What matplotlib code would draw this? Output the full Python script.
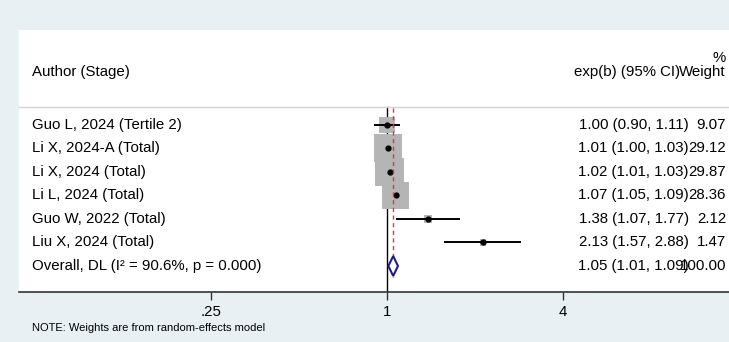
import matplotlib.pyplot as plt
import matplotlib.transforms as mtransforms
import numpy as np

plt.rcParams['font.family'] = ['Liberation Sans', 'DejaVu Sans']

# study data
labels = ['Guo L, 2024 (Tertile 2)', 'Li X, 2024-A (Total)', 'Li X, 2024 (Total)',
          'Li L, 2024 (Total)', 'Guo W, 2022 (Total)', 'Liu X, 2024 (Total)']
es = [1.00, 1.01, 1.02, 1.07, 1.38, 2.13]
lo = [0.90, 1.00, 1.01, 1.05, 1.07, 1.57]
hi = [1.11, 1.03, 1.03, 1.09, 1.77, 2.88]
weights = [9.07, 29.12, 29.87, 28.36, 2.12, 1.47]

overall_label = 'Overall, DL (I\u00b2 = 90.6%, p = 0.000)'
overall_es, overall_lo, overall_hi = 1.05, 1.01, 1.09
overall_w = 100.00

xticks = [0.25, 1, 4]
xticklabels = ['.25', '1', '4']

bg = '#e9f0f3'
fig = plt.figure(figsize=(7.29, 3.42), dpi=100, facecolor=bg)
ax = fig.add_axes([19/729, 1-292/342, 1-19/729, (292-30)/342])
ax.set_facecolor('white')

ax.set_xscale('log', base=2)
ax.set_xlim(2**-4.182, 2**3.886)
ax.set_ylim(7.106, -4.04)

rows = np.arange(len(labels))
fs = 10.8

# CI lines, boxes, dots
for i in rows:
    ax.plot([lo[i], hi[i]], [i, i], color='black', lw=1.4, zorder=3, solid_capstyle='butt')
ax.scatter(es, rows, s=np.array(weights)*14, marker='s', color='#b5b5b5', lw=0, zorder=2)
ax.plot(es, rows, 'o', color='black', ms=3.5, zorder=4)

# overall diamond
yo = len(labels)
ax.fill([overall_lo, overall_es, overall_hi, overall_es, overall_lo],
        [yo, yo-0.42, yo, yo+0.42, yo], facecolor='white', edgecolor='#1c1c86', lw=1.5, zorder=5)

# reference lines
ax.plot([1, 1], [-0.766, 7.106], color='black', lw=1.0, zorder=1)
ax.plot([overall_es, overall_es], [-0.72, 6.47], color='#b84a4a', lw=1.0, ls=(0, (3, 2.5)), zorder=4)
ax.axhline(-0.766, color='#d2d2d2', lw=1.0)

# axis
for s in ['top', 'left', 'right']:
    ax.spines[s].set_visible(False)
ax.spines['bottom'].set_linewidth(1.2)
ax.spines['bottom'].set_color('#333333')
ax.set_xticks(xticks)
ax.set_xticklabels(xticklabels, fontsize=fs)
ax.xaxis.set_minor_locator(plt.NullLocator())
ax.tick_params(axis='x', length=6, width=1, pad=3, color='#333333')
ax.set_yticks([])

# text columns: x in figure fraction, y in data rows
trans = mtransforms.blended_transform_factory(fig.transFigure, ax.transData)
xl = 32/729
xe = 689/729
xw = 726/729

ax.text(xl, -2.255, 'Author (Stage)', transform=trans, fontsize=fs, va='center', ha='left')
ax.text(680/729, -2.255, 'exp(b) (95% CI)', transform=trans, fontsize=fs, va='center', ha='right')
ax.text(xw, -2.255, 'Weight', transform=trans, fontsize=fs, va='center', ha='right')
ax.text(xw, -2.85, '%', transform=trans, fontsize=fs, va='center', ha='right')

for i in rows:
    ax.text(xl, i, labels[i], transform=trans, fontsize=fs, va='center', ha='left')
    ax.text(xe, i, '%.2f (%.2f, %.2f)' % (es[i], lo[i], hi[i]), transform=trans,
            fontsize=fs, va='center', ha='right')
    ax.text(xw, i, '%.2f' % weights[i], transform=trans, fontsize=fs, va='center', ha='right')

ax.text(xl, yo, overall_label, transform=trans, fontsize=fs, va='center', ha='left')
ax.text(xe, yo, '%.2f (%.2f, %.2f)' % (overall_es, overall_lo, overall_hi), transform=trans,
        fontsize=fs, va='center', ha='right')
ax.text(xw, yo, '%.2f' % overall_w, transform=trans, fontsize=fs, va='center', ha='right')

fig.text(32/729, 1-328/342, 'NOTE: Weights are from random-effects model', fontsize=8, va='center', ha='left')

fig.savefig('out.png', dpi=100, facecolor=bg)
